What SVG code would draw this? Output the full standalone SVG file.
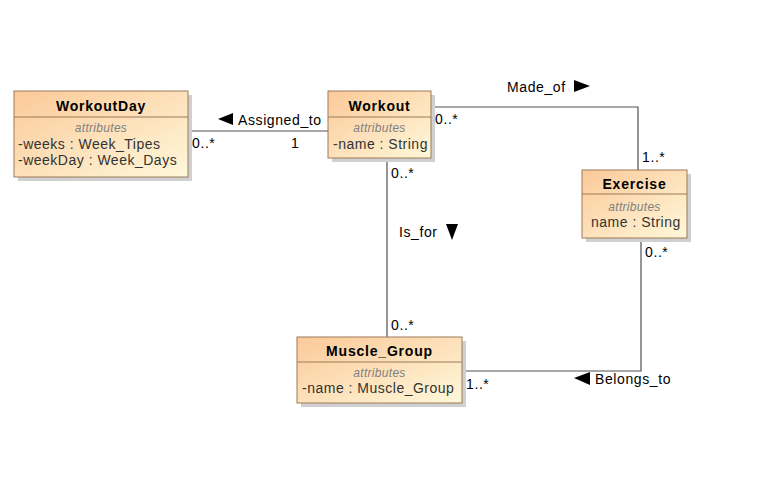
<svg xmlns="http://www.w3.org/2000/svg" width="758" height="482" viewBox="0 0 758 482">
<defs>
<linearGradient id="g" x1="0" y1="0" x2="1" y2="1">
<stop offset="0" stop-color="#FBC999"/>
<stop offset="1" stop-color="#FFF8DA"/>
</linearGradient>
<style>
.box{fill:url(#g);stroke:#9B7A58;stroke-width:1}
.sh{fill:#D0D0D0}
.div{stroke:#9B7A58;stroke-width:1}
.t{font-family:"Liberation Sans",Arial,sans-serif;font-size:14px;font-weight:bold;fill:#000;text-anchor:middle;letter-spacing:0.8px}
.a{font-family:"Liberation Sans",Arial,sans-serif;font-size:12px;font-style:italic;fill:#808080;text-anchor:middle;letter-spacing:0.3px}
.x{font-family:"Liberation Sans",Arial,sans-serif;font-size:14px;fill:#333;letter-spacing:0.5px}
.l{font-family:"Liberation Sans",Arial,sans-serif;font-size:14px;fill:#000;letter-spacing:0.6px}
.c{fill:none;stroke:#505050;stroke-width:1.2}
</style>
</defs>
<rect width="758" height="482" fill="#fff"/>
<g id="connectors">
<path class="c" d="M188,131 H328"/>
<path class="c" d="M431,107 H638 V170"/>
<path class="c" d="M387,158 V337"/>
<path class="c" d="M641,238 V371 H462"/>
<polygon points="218,119 233,113 233,125" fill="#000"/>
<text class="l" x="238" y="125">Assigned_to</text>
<text class="l" x="192" y="148">0..*</text>
<text class="l" x="291" y="148">1</text>
<text class="l" x="507" y="92">Made_of</text>
<polygon points="590,86 574,80 574,92" fill="#000"/>
<text class="l" x="435" y="124">0..*</text>
<text class="l" x="642" y="162">1..*</text>
<text class="l" x="391" y="178">0..*</text>
<text class="l" x="399" y="237">Is_for</text>
<polygon points="452,240 446,224 458,224" fill="#000"/>
<text class="l" x="391" y="330">0..*</text>
<text class="l" x="645" y="257">0..*</text>
<text class="l" x="466" y="389">1..*</text>
<polygon points="574,378 590,372 590,385" fill="#000"/>
<text class="l" x="595" y="384">Belongs_to</text>
</g>
<g id="WorkoutDay">
<rect class="sh" x="18" y="95" width="174" height="86"/>
<rect class="box" x="14" y="91" width="174" height="86"/>
<line class="div" x1="14" y1="117" x2="188" y2="117"/>
<text class="t" x="101" y="111">WorkoutDay</text>
<text class="a" x="101" y="132">attributes</text>
<text class="x" x="18" y="149">-weeks : Week_Tipes</text>
<text class="x" x="18" y="165">-weekDay : Week_Days</text>
</g>
<g id="Workout">
<rect class="sh" x="332" y="95" width="103" height="67"/>
<rect class="box" x="328" y="91" width="103" height="67"/>
<line class="div" x1="328" y1="117" x2="431" y2="117"/>
<text class="t" x="379.500" y="111">Workout</text>
<text class="a" x="379.500" y="132">attributes</text>
<text class="x" x="333" y="149">-name : String</text>
</g>
<g id="Exercise">
<rect class="sh" x="586" y="174" width="105" height="68"/>
<rect class="box" x="582" y="170" width="105" height="68"/>
<line class="div" x1="582" y1="194" x2="687" y2="194"/>
<text class="t" x="634.500" y="189">Exercise</text>
<text class="a" x="634.500" y="211">attributes</text>
<text class="x" x="591" y="227">name : String</text>
</g>
<g id="Muscle_Group">
<rect class="sh" x="301" y="341" width="165" height="66"/>
<rect class="box" x="297" y="337" width="165" height="66"/>
<line class="div" x1="297" y1="362" x2="462" y2="362"/>
<text class="t" x="379.500" y="356">Muscle_Group</text>
<text class="a" x="379.500" y="377">attributes</text>
<text class="x" x="302" y="393">-name : Muscle_Group</text>
</g>
</svg>
